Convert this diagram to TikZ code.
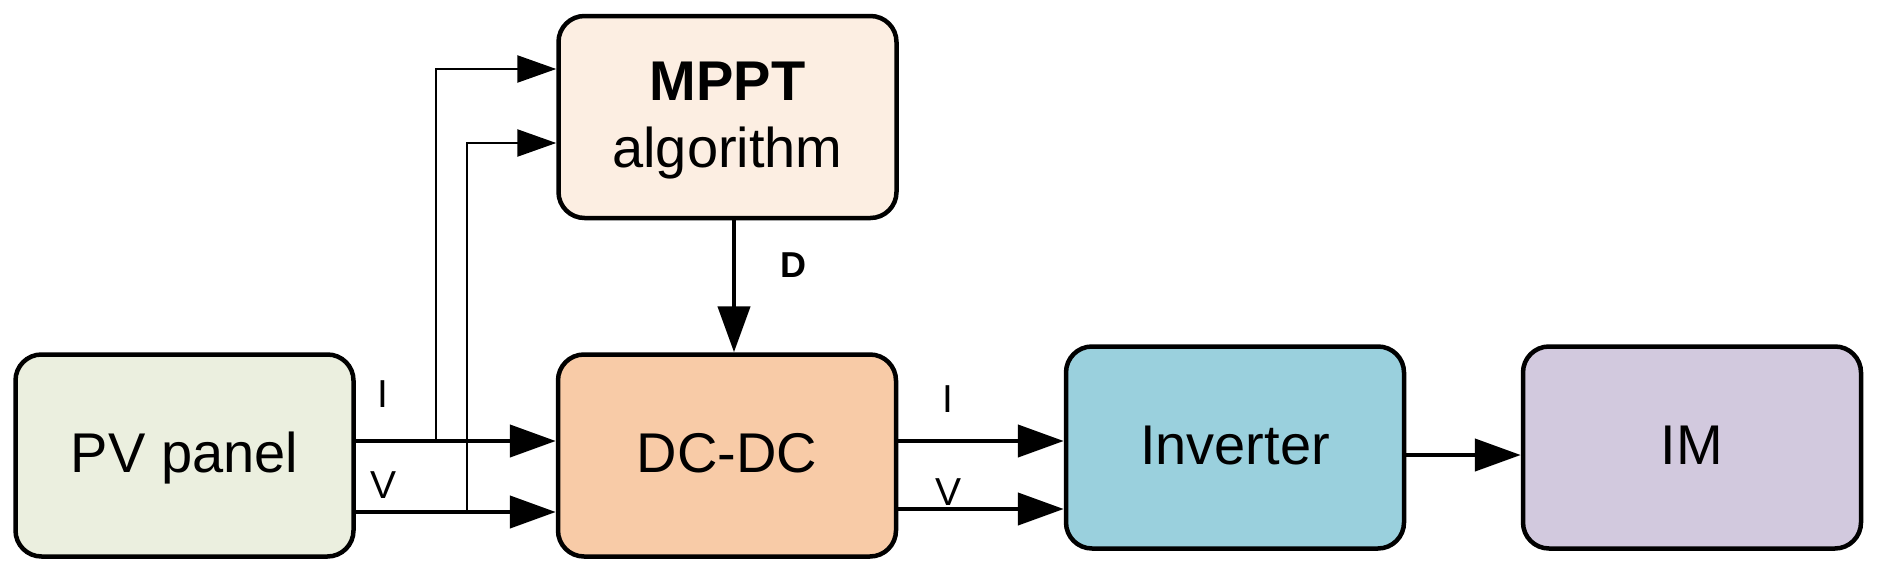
\documentclass[tikz,border=0pt]{standalone}
\usepackage{fontspec}
\setmainfont{Liberation Sans}
\usetikzlibrary{arrows.meta}
\definecolor{pvc}{HTML}{EBEFDF}
\definecolor{mpptc}{HTML}{FCEEE2}
\definecolor{dcc}{HTML}{F8CBA7}
\definecolor{invc}{HTML}{9AD0DD}
\definecolor{imc}{HTML}{D2C9DE}
\begin{document}
\begin{tikzpicture}[x=1pt,y=-1pt,
  box/.style={draw=black, line width=4.5pt, rounded corners=26pt,
    minimum width=338pt, minimum height=202pt, inner sep=0pt,
    font=\fontsize{56}{60}\selectfont, text height=40pt, text depth=7pt},
  boxtext/.style={anchor=base, inner sep=0pt, font=\fontsize{56}{60}\selectfont},
  conn/.style={line width=4.5pt, -{Triangle[length=46pt,width=32pt]}},
  thinconn/.style={line width=2.5pt, -{Triangle[length=39pt,width=27pt]}},
  lbl/.style={anchor=base, inner sep=0pt, font=\fontsize{39}{42}\selectfont}]
\useasboundingbox (0,0) rectangle (1882,573);

% boxes
\node[box, fill=pvc]   (pv)  at (184.5,455.5) {PV panel};
\node[box, fill=mpptc] (mppt) at (727.5,117) {};
\node[boxtext, font=\fontsize{56}{60}\selectfont\bfseries] (mpptt) at (727.5,100) {MPPT};
\node[boxtext] (mppta) at (727.5,167) {algorithm};
\node[box, fill=dcc]   (dc)  at (727,455.5) {DC-DC};
\node[box, fill=invc]  (inv) at (1235,447.5) {Inverter};
\node[box, fill=imc]   (im)  at (1692,447.5) {IM};

% helper coordinates
\coordinate (yI)  at (0,441);
\coordinate (yV)  at (0,512);
\coordinate (yV2) at (0,509);
\coordinate (yIm) at (0,69);
\coordinate (yVm) at (0,143);
\coordinate (yO)  at (0,455);
\coordinate (xD)  at (734,0);
\coordinate (bI)  at (436,441);
\coordinate (bV)  at (467,512);

% PV -> DC-DC
\draw[conn] (pv.east |- yI) -- (dc.west |- yI);
\draw[conn] (pv.east |- yV) -- (dc.west |- yV);
% branches to MPPT
\draw[thinconn] (bI) |- (mppt.west |- yIm);
\draw[thinconn] (bV) |- (mppt.west |- yVm);
% MPPT -> DC-DC
\draw[conn] (mppt.south -| xD) -- (dc.north -| xD);
% DC-DC -> Inverter
\draw[conn] (dc.east |- yI) -- (inv.west |- yI);
\draw[conn] (dc.east |- yV2) -- (inv.west |- yV2);
% Inverter -> IM
\draw[conn] (inv.east |- yO) -- (im.west |- yO);

% labels
\node[lbl] (lI1) at (383,407) {I};
\node[lbl] (lV1) at (384,498) {V};
\node[lbl] (lI2) at (948,412) {I};
\node[lbl] (lV2) at (948,505) {V};
\node[lbl, font=\fontsize{36}{40}\selectfont\bfseries] (lD) at (793,277) {D};
\end{tikzpicture}
\end{document}
